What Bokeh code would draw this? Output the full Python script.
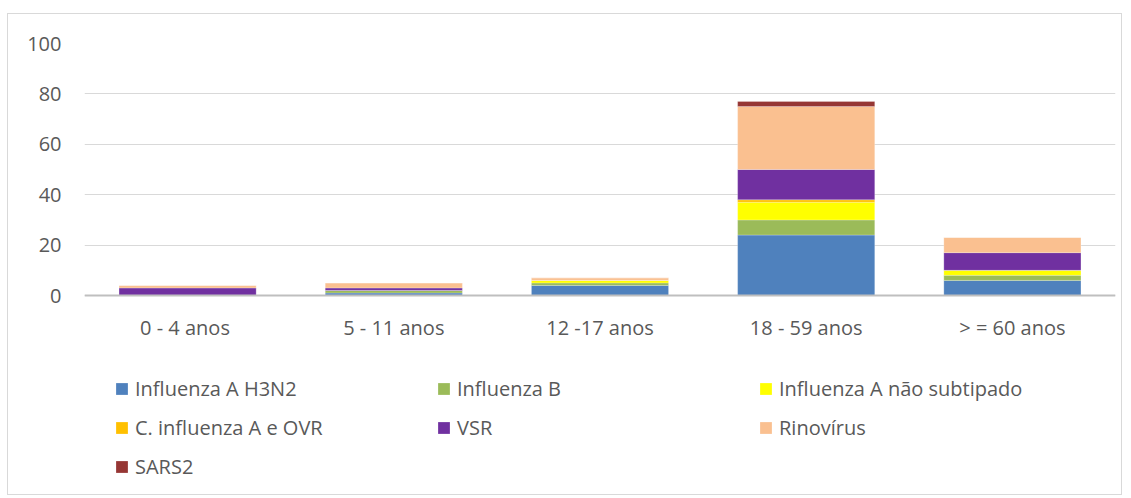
from bokeh.plotting import figure
from bokeh.models import FactorRange, Legend, ColumnDataSource, Range1d
from bokeh.embed import file_html
from bokeh.resources import INLINE

categories = ["0 - 4  anos", "5 - 11 anos", "12 -17 anos", "18 - 59 anos", "> = 60 anos"]
series_names = ["Influenza A H3N2", "Influenza B", "Influenza A não subtipado",
                "C. influenza A e OVR", "VSR", "Rinovírus", "SARS2"]
h3n2 = [0, 1, 4, 24, 6]
inf_b = [0, 1, 1, 6, 2]
inf_a_ns = [0, 0, 1, 7, 2]
c_inf_ovr = [0, 0, 0, 1, 0]
vsr = [3, 1, 0, 12, 7]
rino = [1, 2, 1, 25, 6]
sars2 = [0, 0, 0, 2, 0]
colors = ["#4f81bd", "#9bbb59", "#ffff00", "#ffc000", "#7030a0", "#fac090", "#963634"]
y_ticks = [0, 20, 40, 60, 80, 100]

keys = ["s0", "s1", "s2", "s3", "s4", "s5", "s6"]
data = {"cat": categories}
for k, v in zip(keys, [h3n2, inf_b, inf_a_ns, c_inf_ovr, vsr, rino, sars2]):
    data[k] = v
source = ColumnDataSource(data)

FONT = "Open Sans"
TXT = "#595959"

# layout (pixels)
W, H = 1115, 482
B_TOP, B_BOTTOM, B_LEFT, B_RIGHT = 29, 4, 76, 8
PLOT_PX = 252  # pixel height of the 0..100 value band
frame_h = H - B_TOP - B_BOTTOM
y_max = 100
y_min = -(frame_h - PLOT_PX) / PLOT_PX * y_max

p = figure(x_range=FactorRange(*categories, range_padding=0), y_range=Range1d(y_min, y_max),
           width=W, height=H, output_backend="svg", toolbar_location=None,
           min_border_left=B_LEFT, min_border_right=B_RIGHT,
           min_border_top=B_TOP, min_border_bottom=B_BOTTOM)
p.margin = (13, 0, 0, 7)
p.styles = {"border": "1px solid #d9d9d9"}
p.outline_line_color = None

renderers = p.vbar_stack(keys, x="cat", width=0.665, source=source, color=colors,
                         line_color="white", line_alpha=0.4, line_width=0.6)

p.yaxis.ticker = y_ticks
p.yaxis.axis_line_color = None
p.yaxis.major_tick_line_color = None
p.yaxis.minor_tick_line_color = None
p.yaxis.major_label_standoff = 17
p.yaxis.major_label_text_font = FONT
p.yaxis.major_label_text_font_size = "20px"
p.yaxis.major_label_text_color = TXT

p.xaxis.fixed_location = 0
p.xaxis.axis_line_color = "#bfbfbf"
p.xaxis.axis_line_width = 2
p.xaxis.major_tick_line_color = None
p.xaxis.minor_tick_line_color = None
p.xaxis.major_label_standoff = 12
p.xaxis.major_label_text_font = FONT
p.xaxis.major_label_text_font_size = "20px"
p.xaxis.major_label_text_color = TXT

p.xgrid.grid_line_color = None
p.ygrid.ticker = y_ticks
p.ygrid.grid_line_color = "#d9d9d9"
p.ygrid.grid_line_width = 1

items = [(name, [r]) for name, r in zip(series_names, renderers)]
legend = Legend(items=items, location=(30, 6), orientation="horizontal", ncols=3,
                glyph_width=15, glyph_height=15, label_standoff=6, label_width=301,
                label_height=39, spacing=0, padding=0, margin=0,
                label_text_font=FONT, label_text_font_size="20px", label_text_color=TXT,
                border_line_color=None, background_fill_alpha=0)
p.add_layout(legend, "center")

open("out.html", "w").write(file_html(p, INLINE))
